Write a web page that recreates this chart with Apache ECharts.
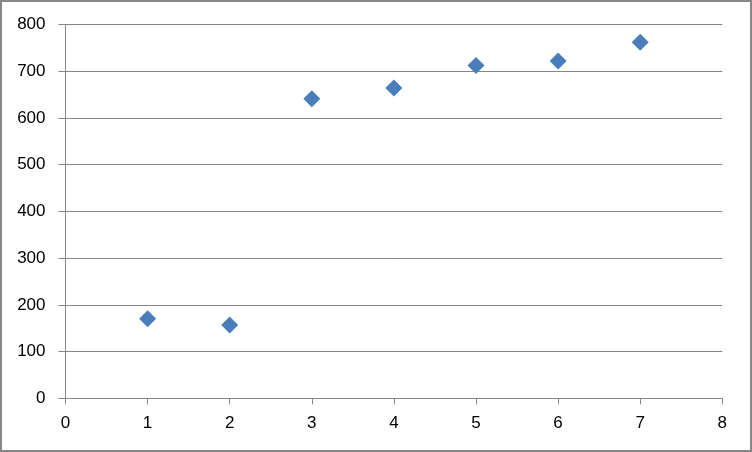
<!DOCTYPE html>
<html><head><meta charset="utf-8">
<script src="https://cdn.jsdelivr.net/npm/echarts@6/dist/echarts.min.js"></script>
<style>
html,body{margin:0;padding:0;background:#fff;}
#frame{position:absolute;left:0;top:0;width:752px;height:452px;box-sizing:border-box;border:2px solid #868686;}
#c{position:absolute;left:0;top:0;width:752px;height:452px;}
</style></head>
<body>
<div id="c"></div>
<div id="frame"></div>
<script>
const xValues = [1, 2, 3, 4, 5, 6, 7];
const yValues = [170, 157, 641, 664, 712, 722, 762];
const xTicks = [0, 1, 2, 3, 4, 5, 6, 7, 8];
const yTicks = [0, 100, 200, 300, 400, 500, 600, 700, 800];

const chart = echarts.init(document.getElementById('c'), null, {renderer: 'canvas'});
const lineColor = '#868686';
const font = {fontFamily: 'Liberation Sans', fontSize: 17, color: '#000'};
chart.setOption({
  animation: false,
  grid: {left: 65.5, right: 29.7, top: 24.5, bottom: 53.7, containLabel: false},
  xAxis: {
    type: 'value', min: xTicks[0], max: xTicks[xTicks.length - 1], interval: 1,
    axisLine: {show: true, lineStyle: {color: lineColor, width: 1}},
    axisTick: {show: true, length: 6, lineStyle: {color: lineColor}},
    splitLine: {show: false},
    axisLabel: Object.assign({margin: 17}, font)
  },
  yAxis: {
    type: 'value', min: yTicks[0], max: yTicks[yTicks.length - 1], interval: 100,
    axisLine: {show: true, lineStyle: {color: lineColor, width: 1}},
    axisTick: {show: true, length: 7, lineStyle: {color: lineColor}},
    splitLine: {show: true, lineStyle: {color: lineColor, width: 1}},
    axisLabel: Object.assign({margin: 20}, font)
  },
  series: [{
    type: 'scatter',
    data: xValues.map((x, i) => [x, yValues[i]]),
    symbol: 'diamond',
    symbolSize: 17,
    itemStyle: {color: '#4a7ebb', opacity: 1}
  }]
});
</script>
</body></html>
